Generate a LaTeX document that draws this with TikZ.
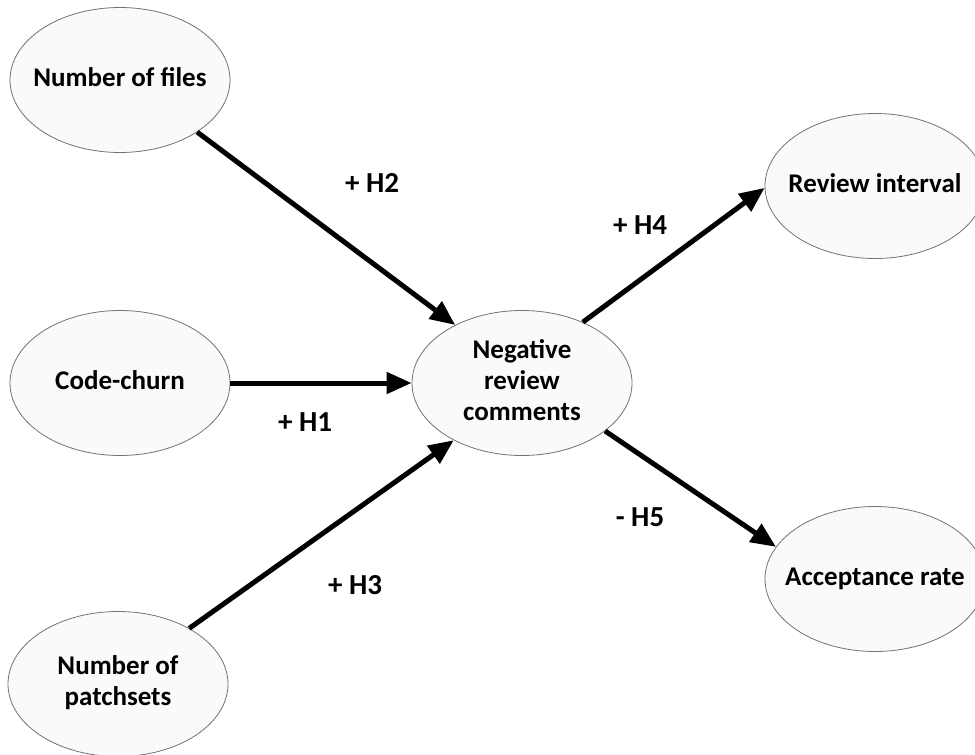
\documentclass[tikz,border=0pt]{standalone}
\usepackage{fontspec}
\setmainfont{Carlito}
\usetikzlibrary{arrows.meta,shapes.geometric}
% centred text block that does not widen its ellipse
\newcommand\ctxt[1]{\makebox[0pt]{\raisebox{-3pt}{\begin{tabular}{@{}c@{}}#1\end{tabular}}}}
\begin{document}
\begin{tikzpicture}[x=1pt,y=-1pt,
  construct/.style={ellipse,draw=black!55,line width=0.8pt,fill=black!2,
    minimum width=220pt,minimum height=145pt,inner sep=0pt,
    font=\fontsize{27}{31}\selectfont\bfseries},
  link/.style={line width=5pt,-{Triangle[length=25pt,width=21pt]}},
  hyp/.style={font=\fontsize{29}{31}\selectfont\bfseries,inner sep=0pt}]
\clip (0,0) rectangle (975,755);
\fill[white] (0,0) rectangle (975,755);

% constructs
\node[construct] (files)  at (120,80)  {\ctxt{Number of files}};
\node[construct] (churn)  at (120,383) {\ctxt{Code-churn}};
\node[construct] (patch)  at (118,684) {\ctxt{Number of\\patchsets}};
\node[construct] (neg)    at (522,383) {\ctxt{Negative\\review\\comments}};
\node[construct] (review) at (875,186) {\ctxt{Review interval}};
\node[construct] (accept) at (875,579) {\ctxt{Acceptance rate}};

% hypothesised effects
\draw[link] (files.-34)  -- (neg.139);
\draw[link] (churn.0)    -- (neg.180);
\draw[link] (patch.38)   -- (neg.-140);
\draw[link] (neg.45)     -- (review.181);
\draw[link] (neg.-30)    -- (accept.162);

% hypothesis labels
\node[hyp] (h2) at (372,183) {+ H2};
\node[hyp] (h1) at (305,422) {+ H1};
\node[hyp] (h3) at (355,585) {+ H3};
\node[hyp] (h4) at (640,225) {+ H4};
\node[hyp] (h5) at (640,517) {- H5};
\end{tikzpicture}
\end{document}
